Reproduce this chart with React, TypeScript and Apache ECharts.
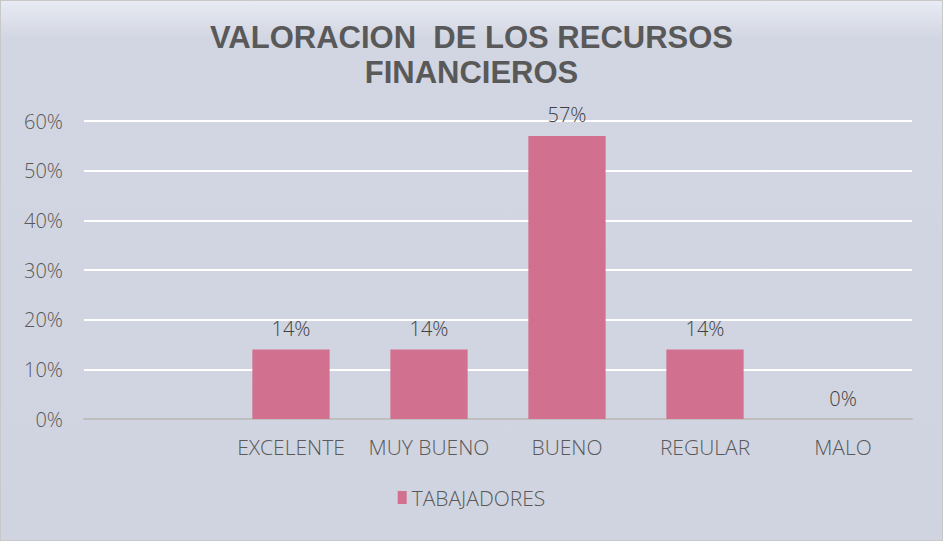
import React, { useEffect, useRef } from "react";
import * as echarts from "echarts";

const categories = ["", "EXCELENTE", "MUY BUENO", "BUENO", "REGULAR", "MALO"];
const values: (number | string)[] = ["-", 14, 14, 57, 14, 0];
const seriesName = "TABAJADORES";
const titleText = "VALORACION  DE LOS RECURSOS\nFINANCIEROS";

const FONT = "Open Sans, sans-serif";

export default function App() {
  const ref = useRef<HTMLDivElement>(null);
  useEffect(() => {
    document.body.style.margin = "0";
    const chart = echarts.init(ref.current!, null, { renderer: "svg" });
    chart.setOption({
      animation: false,
      backgroundColor: {
        type: "linear",
        x: 0, y: 0, x2: 0, y2: 1,
        colorStops: [
          { offset: 0, color: "#e8ebf3" },
          { offset: 0.07, color: "#d2d6e2" },
          { offset: 1, color: "#d0d4e0" },
        ],
      },
      title: {
        text: titleText,
        left: "center",
        top: 14,
        textStyle: {
          fontFamily: "Liberation Sans, Arial, sans-serif",
          fontSize: 31,
          fontWeight: "bold",
          color: "#595959",
          lineHeight: 35,
        },
      },
      legend: {
        bottom: 27,
        left: "center",
        itemWidth: 9,
        itemHeight: 13,
        itemGap: 8,
        icon: "rect",
        textStyle: { fontFamily: FONT, fontSize: 21, fontWeight: 300, color: "#595959" },
        data: [seriesName],
      },
      grid: { left: 83, right: 30, top: 120, bottom: 121 },
      xAxis: {
        type: "category",
        data: categories,
        axisTick: { show: false },
        axisLine: { lineStyle: { color: "#bfbfbf", width: 2 } },
        axisLabel: {
          interval: 0,
          fontFamily: FONT,
          fontSize: 21,
          fontWeight: 300,
          color: "#595959",
          margin: 17,
        },
      },
      yAxis: {
        type: "value",
        min: 0,
        max: 60,
        interval: 10,
        axisLabel: {
          formatter: "{value}%",
          fontFamily: FONT,
          fontSize: 20,
          fontWeight: 300,
          color: "#595959",
          margin: 21,
        },
        splitLine: { lineStyle: { color: "#ffffff", width: 2 } },
        axisLine: { show: false },
        axisTick: { show: false },
      },
      series: [
        {
          name: seriesName,
          type: "bar",
          data: values,
          barWidth: "56%",
          itemStyle: { color: "#d2708f" },
          label: {
            show: true,
            position: "top",
            distance: 11,
            formatter: "{c}%",
            fontFamily: FONT,
            fontSize: 20,
            fontWeight: 300,
            color: "#404040",
          },
        },
      ],
    });
    return () => chart.dispose();
  }, []);
  return (
    <div
      ref={ref}
      style={{ width: 943, height: 541, boxSizing: "border-box", border: "1px solid #c8c8c8" }}
    />
  );
}
